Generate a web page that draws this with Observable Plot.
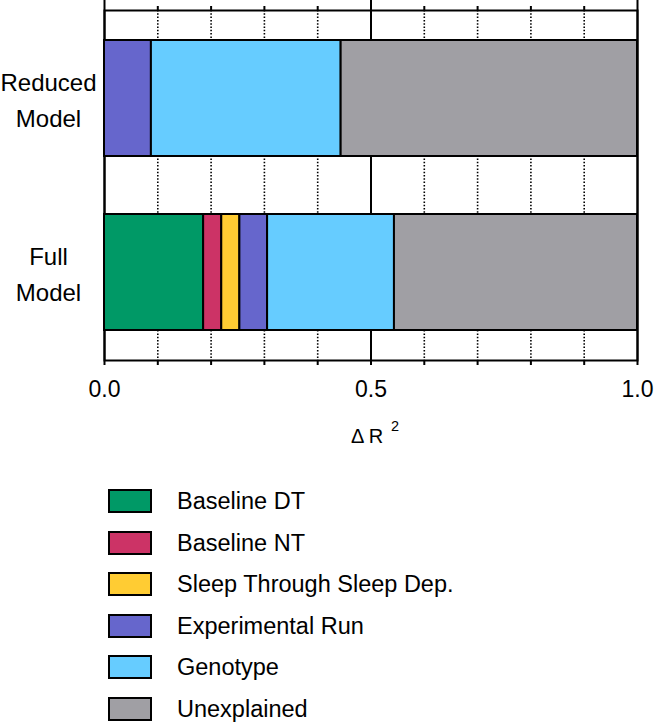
<!DOCTYPE html>
<html>
<head>
<meta charset="utf-8">
<script src="https://cdn.jsdelivr.net/npm/d3@7"></script>
<script src="https://cdn.jsdelivr.net/npm/@observablehq/plot@0.6"></script>
<style>
  html, body { margin: 0; padding: 0; background: white; }
  #wrap { position: relative; width: 654px; height: 725px; font-family: "Liberation Sans", Arial, sans-serif; color: black; }
  #legend { position: absolute; left: 0; top: 0; width: 654px; }
  .row { position: absolute; left: 108px; height: 24px; display: flex; align-items: center; }
  .sw { width: 44px; height: 24px; box-sizing: border-box; border: 2.5px solid black; }
  .lab { margin-left: 25px; font-size: 23.5px; line-height: 24px; white-space: nowrap; }
</style>
</head>
<body>
<div id="wrap"><div id="chart"></div><div id="legend"></div></div>
<script>
const models = ["Reduced Model", "Full Model"];
const modelLabels = ["Reduced\nModel", "Full\nModel"];
const components = ["Baseline DT", "Baseline NT", "Sleep Through Sleep Dep.", "Experimental Run", "Genotype", "Unexplained"];
const colors = ["#009966", "#CC3366", "#FFCC33", "#6666CC", "#66CCFF", "#A09FA4"];
const reducedValues = [0, 0, 0, 0.088, 0.356, 0.556];
const fullValues = [0.186, 0.034, 0.034, 0.052, 0.238, 0.456];
const allTicks = [0, 0.1, 0.2, 0.3, 0.4, 0.5, 0.6, 0.7, 0.8, 0.9, 1.0];
const majorTicks = [0, 0.5, 1.0];
const minorTicks = [0.1, 0.2, 0.3, 0.4, 0.6, 0.7, 0.8, 0.9];
const axisTitle = "\u0394 R";
const axisTitleSup = "2";

const rows = [];
[reducedValues, fullValues].forEach((vals, mi) => {
  vals.forEach((v, ci) => {
    if (v > 0) rows.push({model: models[mi], component: components[ci], value: v});
  });
});

const chart = Plot.plot({
  width: 654,
  height: 460,
  marginTop: 10,
  marginBottom: 100,
  marginLeft: 104,
  marginRight: 17,
  style: {fontFamily: "'Liberation Sans', Arial, sans-serif", fontSize: "23px", color: "black", background: "white"},
  x: {domain: [0, 1]},
  y: {domain: models, paddingInner: 0.336, paddingOuter: 0.169, axis: null},
  color: {domain: components, range: colors},
  marks: [
    Plot.ruleX(minorTicks, {stroke: "black", strokeWidth: 1.6, strokeDasharray: "1.5,1.8"}),
    Plot.ruleX(majorTicks, {stroke: "black", strokeWidth: 2, insetTop: -10}),
    Plot.frame({stroke: "black", strokeWidth: 2}),
    Plot.barX(rows, {x: "value", y: "model", fill: "component", stroke: "black", strokeWidth: 2}),
    Plot.axisX({anchor: "top", ticks: minorTicks, tickSize: 5, tickFormat: () => "", strokeWidth: 2, label: null}),
    Plot.axisX({anchor: "bottom", ticks: allTicks, tickSize: 5, tickPadding: 15, strokeWidth: 2, fontSize: 23, label: null,
      tickFormat: d => majorTicks.includes(d) ? d.toFixed(1) : ""}),
    Plot.text(models, {y: d => d, text: (d, i) => modelLabels[i], frameAnchor: "left", dx: -56, dy: -1,
      textAnchor: "middle", lineAnchor: "middle", lineHeight: 1.5, fontSize: 24, fill: "black"}),
    Plot.text([axisTitle], {text: d => d, frameAnchor: "bottom", dx: -4, dy: 82, textAnchor: "middle", lineAnchor: "bottom", fontSize: 20, fill: "black"}),
    Plot.text([axisTitleSup], {text: d => d, frameAnchor: "bottom", dx: 20, dy: 70, textAnchor: "start", lineAnchor: "bottom", fontSize: 14.5, fill: "black"})
  ]
});
document.getElementById("chart").appendChild(chart);

const legend = document.getElementById("legend");
components.forEach((c, i) => {
  const row = document.createElement("div");
  row.className = "row";
  row.style.top = (489 + 41.5 * i) + "px";
  const sw = document.createElement("div");
  sw.className = "sw";
  sw.style.background = colors[i];
  const lab = document.createElement("span");
  lab.className = "lab";
  lab.textContent = c;
  row.appendChild(sw);
  row.appendChild(lab);
  legend.appendChild(row);
});
</script>
</body>
</html>
